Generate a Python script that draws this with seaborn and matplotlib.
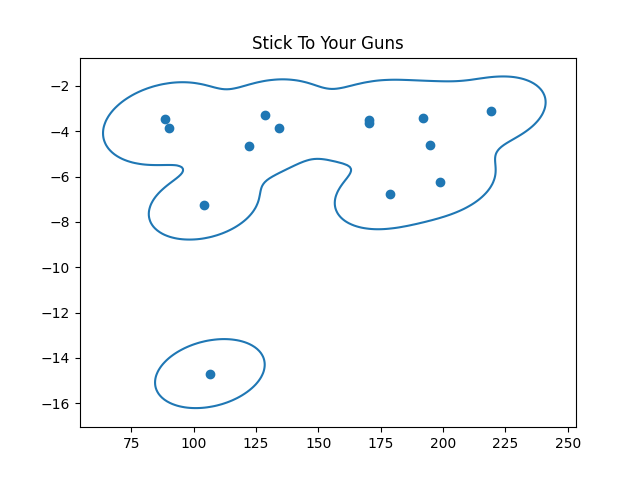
import numpy as np
import pandas as pd
import matplotlib
matplotlib.use("Agg")
import matplotlib.pyplot as plt
import seaborn as sns

x_vals = [88.6, 90.0, 128.7, 134.1, 122.1, 104.0, 170.2, 170.3,
          191.9, 219.1, 194.7, 198.7, 178.6, 106.5]
y_vals = [-3.48, -3.84, -3.30, -3.84, -4.67, -7.26, -3.50, -3.63,
          -3.44, -3.12, -4.63, -6.25, -6.78, -14.69]
title = "Stick To Your Guns"

df = pd.DataFrame({"x": x_vals, "y": y_vals})

fig, ax = plt.subplots(figsize=(6.4, 4.8), dpi=100)
sns.scatterplot(data=df, x="x", y="y", ax=ax, color="C0", s=36,
                edgecolor="C0", linewidth=1.0)
sns.kdeplot(data=df, x="x", y="y", ax=ax, levels=1, bw_adjust=0.4,
            color="C0", linewidths=1.5)
ax.set_title(title)
ax.set_xlabel("")
ax.set_ylabel("")
fig.savefig("out.png", dpi=100)
